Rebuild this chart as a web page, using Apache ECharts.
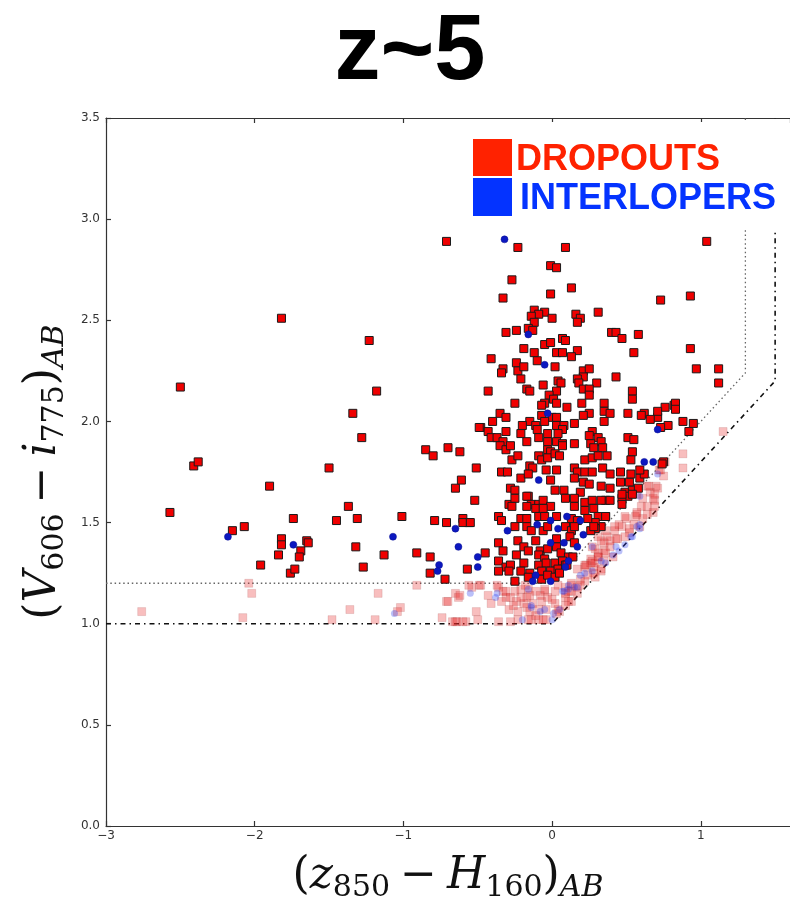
<!DOCTYPE html>
<html>
<head>
<meta charset="utf-8">
<script src="https://cdn.jsdelivr.net/npm/echarts@6/dist/echarts.min.js"></script>
<style>html,body{margin:0;padding:0;background:#fff}#c{width:790px;height:908px}</style>
</head>
<body>
<div id="c"></div>
<script>
// ---- data (colour-colour plane: x = z850 - H160, y = V606 - i775) ----
var titleText = 'z~5';
var xTicks = [-3, -2, -1, 0, 1];
var yTicks = [0.0, 0.5, 1.0, 1.5, 2.0, 2.5, 3.0, 3.5];
var legendNames = ['DROPOUTS', 'INTERLOPERS'];

var dropouts = [
[-2.50,2.17],[-2.41,1.78],[-2.38,1.80],[-2.57,1.55],[-2.15,1.46],[-2.07,1.48],[-1.90,1.68],[-1.96,1.29],[-1.84,1.34],[-1.82,1.42],[-1.82,1.39],[-1.74,1.52],[-1.76,1.25],[-1.73,1.27],[-1.69,1.36],[-1.70,1.33],[-1.65,1.41],[-1.64,1.40],[-1.50,1.77],[-1.45,1.51],[-1.37,1.58],[-1.31,1.52],[-1.32,1.38],[-1.27,1.28],[-1.34,2.04],[-1.28,1.92],[-1.23,2.40],[-1.18,2.15],[-1.13,1.34],[-1.01,1.53],[-0.91,1.35],[-1.82,2.51],
[-0.85,1.86],[-0.80,1.83],[-0.82,1.33],[-0.82,1.25],[-0.79,1.51],[-0.71,1.50],[-0.70,1.87],[-0.62,1.85],[-0.72,1.22],[-0.65,1.67],[-0.60,1.52],[-0.56,1.50],[-0.57,1.27],[-0.51,1.77],[-0.52,1.61],[-0.48,1.97],[-0.45,1.35],[-0.43,2.15],
[-0.71,2.89],[-0.23,2.86],[0.09,2.86],[-0.01,2.77],[0.03,2.76],[-0.27,2.70],[0.13,2.66],[-0.01,2.63],[-0.33,2.61],[0.73,2.60],[-0.12,2.55],[-0.05,2.54],[-0.09,2.53],[-0.14,2.52],[0.16,2.53],[0.19,2.51],[0.31,2.54],[0.00,2.51],[-0.12,2.49],[0.17,2.49],[-0.31,2.44],[-0.24,2.45],[-0.16,2.46],[-0.13,2.45],[0.40,2.44],[0.43,2.44],[0.58,2.43],[0.47,2.41],[0.07,2.41],[0.09,2.40],[-0.05,2.38],[-0.01,2.39],[-0.19,2.36],[-0.12,2.34],[0.03,2.34],[0.07,2.34],[0.17,2.35],[0.55,2.34],[-0.41,2.31],[0.13,2.32],[-0.24,2.29],[-0.10,2.30],
[1.04,2.89],[0.93,2.62],[0.93,2.36],[0.97,2.26],[1.12,2.26],[1.12,2.19],
[-0.33,2.26],[-0.34,2.24],[-0.23,2.25],[-0.19,2.27],[0.02,2.27],[0.21,2.25],[0.25,2.26],[0.21,2.22],[-0.21,2.21],[0.04,2.20],[0.06,2.19],[0.17,2.21],[0.18,2.19],[0.30,2.19],[0.43,2.22],[-0.06,2.18],[0.21,2.16],[0.25,2.16],[-0.17,2.16],[-0.15,2.15],[0.03,2.15],[0.54,2.15],[0.25,2.13],[-0.02,2.13],[0.01,2.11],[0.54,2.11],[-0.25,2.09],[0.03,2.09],[-0.05,2.09],[-0.07,2.08],[0.20,2.09],[0.35,2.09],[0.10,2.07],[0.76,2.07],[0.82,2.08],[0.83,2.09],[0.35,2.05],[0.39,2.04],[0.51,2.04],[0.62,2.04],[0.60,2.03],[-0.35,2.04],[0.25,2.04],[0.21,2.03],[-0.07,2.03],[0.00,2.02],[0.03,2.02],[-0.40,2.00],[-0.31,2.02],[-0.15,2.00],[-0.05,2.00],[0.15,1.99],[0.35,2.00],[0.71,2.02],[0.88,2.00],[0.78,1.98],[0.73,1.97],[-0.49,1.97],[-0.20,1.98],[-0.11,1.98],[0.03,1.98],[0.08,1.98],[-0.43,1.95],[-0.31,1.95],[-0.10,1.96],[0.07,1.96],[-0.21,1.94],[-0.03,1.94],[0.04,1.94],[0.27,1.95],[-0.41,1.92],[-0.37,1.92],[-0.09,1.92],[0.25,1.93],[0.31,1.92],[0.51,1.92],[0.55,1.91],[-0.03,1.90],[0.03,1.90],[-0.33,1.90],[-0.17,1.90],[0.07,1.89],[0.15,1.89],[0.26,1.89],[0.33,1.90],[-0.35,1.88],[-0.31,1.86],[-0.28,1.88],[-0.03,1.86],[-0.01,1.85],[0.07,1.88],[0.28,1.87],[0.34,1.87],[0.54,1.85],[-0.09,1.83],[-0.07,1.81],[-0.03,1.82],[0.02,1.84],[0.05,1.83],[0.22,1.81],[0.27,1.82],[0.31,1.83],[0.37,1.83],[0.53,1.81],[-0.27,1.81],[-0.23,1.83],[-0.15,1.78],[-0.13,1.77],[-0.34,1.75],[-0.30,1.75],[-0.21,1.72],[-0.16,1.74],[-0.04,1.76],[0.03,1.76],[0.15,1.77],[0.17,1.75],[0.22,1.75],[0.27,1.75],[0.34,1.77],[0.39,1.74],[0.46,1.75],[-0.01,1.71],[0.15,1.72],[0.21,1.70],[0.25,1.69],[0.33,1.68],[0.39,1.67],[0.46,1.70],[0.52,1.70],[0.59,1.72],[0.62,1.74],[0.75,1.80],[0.59,1.76],[0.53,1.74],[-0.61,1.71],[-0.28,1.67],[-0.25,1.66],[-0.16,1.63],[0.02,1.66],[0.08,1.66],[0.19,1.65],[0.49,1.65],[0.54,1.66],
[0.92,1.95],[0.95,1.99],[0.74,1.79],[0.58,1.67],[0.51,1.63],[0.47,1.62],[0.54,1.64],[0.47,1.59],[0.36,1.61],[0.36,1.53],[0.31,1.53],[0.33,1.48],[0.29,1.50],[0.83,2.06],[0.66,2.01],[0.71,2.05],
[-0.29,1.59],[-0.25,1.62],[-0.17,1.63],[-0.14,1.59],[-0.09,1.59],[-0.06,1.61],[-0.01,1.58],[0.09,1.62],[0.15,1.62],[0.22,1.60],[0.27,1.61],[0.33,1.61],[0.39,1.61],[0.47,1.64],[-0.27,1.58],[-0.17,1.58],[-0.11,1.57],[-0.06,1.57],[0.15,1.58],[0.22,1.56],[0.28,1.57],[-0.60,1.50],[-0.55,1.50],[-0.36,1.53],[-0.34,1.51],[-0.21,1.52],[-0.17,1.52],[-0.09,1.53],[-0.05,1.53],[0.03,1.53],[0.13,1.52],[0.17,1.51],[0.24,1.52],[0.29,1.47],[0.36,1.53],[-0.25,1.48],[-0.17,1.48],[-0.14,1.46],[-0.06,1.46],[-0.03,1.48],[0.09,1.48],[0.13,1.46],[0.15,1.48],[0.26,1.46],[0.28,1.48],[-0.36,1.40],[-0.23,1.41],[-0.19,1.38],[-0.11,1.41],[0.03,1.42],[0.12,1.43],[0.15,1.40],[-0.16,1.36],[-0.08,1.36],[-0.03,1.37],[0.03,1.38],[0.06,1.35],[0.11,1.33],[0.14,1.33],[-0.33,1.36],[-0.24,1.34],[-0.09,1.34],[-0.05,1.32],[-0.36,1.31],[-0.31,1.28],[-0.28,1.29],[-0.19,1.30],[-0.09,1.29],[-0.04,1.30],[0.02,1.30],[0.07,1.31],[-0.36,1.26],[-0.29,1.26],[-0.21,1.26],[-0.15,1.25],[-0.07,1.26],[-0.01,1.26],[0.04,1.27],[0.09,1.29],[-0.25,1.21],[-0.16,1.23],[-0.07,1.22],[-0.03,1.24],[0.02,1.23],[0.05,1.25],[0.10,1.29]
];

var interlopers = [
[-2.18,1.43],[-1.74,1.39],[-1.07,1.43],[-0.76,1.29],[-0.77,1.26],[-0.65,1.47],[-0.63,1.38],[-0.50,1.33],[-0.50,1.28],[-0.32,2.90],[-0.16,2.43],[-0.05,2.28],[-0.03,2.04],[-0.09,1.71],[0.62,1.80],[0.68,1.80],[0.71,1.96],[-0.30,1.46],[-0.10,1.49],[-0.01,1.51],[0.04,1.47],[0.10,1.53],[0.19,1.51],[0.21,1.44],[-0.01,1.40],[0.08,1.40],[0.17,1.38],[-0.11,1.24],[-0.13,1.21],[-0.01,1.21],[0.11,1.31],[0.09,1.28]
];

var dropoutsFaint = [
[-2.76,1.06],[-2.04,1.20],[-2.02,1.15],[-2.08,1.03],[-1.48,1.02],[-1.36,1.07],[-1.17,1.15],[-1.19,1.02],[-1.02,1.08],[-1.04,1.06],[-0.91,1.19],
[-0.54,1.18],[-0.48,1.19],[-0.36,1.18],[-0.33,1.16],[-0.25,1.16],[-0.31,1.13],[-0.21,1.17],[-0.16,1.17],[-0.11,1.16],[-0.05,1.16],[0.02,1.16],[0.04,1.19],[0.09,1.18],[0.13,1.20],[0.17,1.18],[0.22,1.21],[0.24,1.24],[0.28,1.25],[0.33,1.27],[0.28,1.28],[0.22,1.29],[0.26,1.32],[0.31,1.33],[0.35,1.31],[0.35,1.36],[0.39,1.38],[0.29,1.37],[0.33,1.41],[0.37,1.43],[0.31,1.43],[0.42,1.46],[0.47,1.48],[0.52,1.45],[0.55,1.49],[0.50,1.52],[0.57,1.54],[0.61,1.52],[0.64,1.58],[0.68,1.55],[0.69,1.61],
[-0.65,1.15],[-0.63,1.13],[-0.71,1.11],[-0.51,1.06],[-0.58,1.01],[-0.67,1.01],[-0.64,1.01],[-0.34,1.11],[-0.28,1.13],[-0.24,1.11],[-0.17,1.13],[-0.19,1.10],[-0.29,1.07],[-0.23,1.06],[-0.17,1.08],[-0.13,1.10],[-0.07,1.11],[-0.03,1.13],[-0.09,1.07],[-0.04,1.07],[0.02,1.10],[-0.15,1.06],[-0.23,1.02],[-0.16,1.02],[-0.09,1.02],[-0.04,1.02],[0.03,1.05],[0.09,1.13],[0.13,1.11],[0.17,1.15],[0.13,1.16],[-0.43,1.14],[-0.41,1.10],[-0.50,1.02],[-0.36,1.01],[-0.28,1.01],
[-0.62,1.14],[-0.70,1.11],[-0.56,1.19],[-0.49,1.19],[-0.74,1.03],[-0.65,1.01],[-0.60,1.01],[-0.37,1.19],[-0.31,1.16],[-0.26,1.09],[-0.21,1.13],[-0.18,1.19],[-0.15,1.14],[-0.14,1.02],[-0.11,1.04],[-0.06,1.02],[-0.08,1.14],[-0.05,1.17],[0.00,1.12],[0.04,1.07],[0.09,1.15],[0.11,1.11],[0.13,1.19],[0.17,1.27],[0.22,1.28],[0.19,1.22],[0.26,1.30],[0.29,1.30],[0.31,1.35],[0.39,1.41],[0.44,1.42],[0.49,1.43],[0.52,1.47],[0.56,1.53],[0.60,1.58],[0.66,1.65],[0.64,1.68],[0.70,1.68],[0.68,1.62],[0.75,1.73],[0.72,1.76],
[1.15,1.95],[0.88,1.84],[0.88,1.77],[0.76,1.80],[0.73,1.76],[0.71,1.67],[0.65,1.68],[0.69,1.64],[0.57,1.64],[0.61,1.62],[0.69,1.58],[0.64,1.54],[0.57,1.55],[0.49,1.53],[0.59,1.48],[0.45,1.49],[0.42,1.48],[0.36,1.46],[0.43,1.42],[0.35,1.40],[0.27,1.38],[0.36,1.35],[0.41,1.33],[0.31,1.33],[0.27,1.31],[0.23,1.29],[0.33,1.26],[0.29,1.23],[0.19,1.19],[0.11,1.16],[0.09,1.09],[0.05,1.06]
];

var interlopersFaint = [
[-1.06,1.05],[-0.55,1.15],[-0.37,1.15],[-0.16,1.17],[-0.14,1.08],[-0.08,1.06],[-0.05,1.07],[0.05,1.07],[0.07,1.16],[0.11,1.19],[0.15,1.18],[0.19,1.24],[0.22,1.25],[0.27,1.38],[0.33,1.31],[0.36,1.30],[0.43,1.38],[0.49,1.39],[0.53,1.43],[0.57,1.48],[0.59,1.49],[0.71,1.74],[0.59,1.63],[0.59,1.47],[0.54,1.43],[0.41,1.34],[0.27,1.26],[0.11,1.17],[0.08,1.16],[0.17,1.18],[-0.20,1.02],[0.00,1.02],[-0.38,1.13],[-0.14,1.09],[0.01,1.05],[0.45,1.36]
];

// selection boundaries
var selectionDotted = [[-3, 1.2], [0, 1.2], [1.3, 2.24], [1.3, 3.5]];
var selectionDashDot = [[-3, 1.0], [0, 1.0], [1.5, 2.2], [1.5, 3.5]];

// ---- chart ----
var chart = echarts.init(document.getElementById('c'), null, {renderer: 'canvas'});
var serifRich = {
  p:  {fontFamily: 'DejaVu Serif', fontSize: 44, lineHeight: 52, verticalAlign: 'middle', color: '#111'},
  i:  {fontFamily: 'DejaVu Serif', fontStyle: 'italic', fontSize: 44, lineHeight: 52, verticalAlign: 'middle', color: '#111'},
  m:  {fontFamily: 'DejaVu Serif', fontSize: 44, lineHeight: 52, verticalAlign: 'middle', color: '#111', padding: [0, 10, 0, 10]},
  s:  {fontFamily: 'DejaVu Serif', fontSize: 30, lineHeight: 18, verticalAlign: 'bottom', color: '#111'},
  si: {fontFamily: 'DejaVu Serif', fontStyle: 'italic', fontSize: 30, lineHeight: 18, verticalAlign: 'bottom', color: '#111'}
};
var axisLineStyle = {color: '#333', width: 1.2};
var tickLabel = {color: '#333', fontFamily: 'DejaVu Sans', fontSize: 12};

var option = {
  backgroundColor: '#fff',
  animation: false,
  grid: {left: 106, right: -5, top: 118, bottom: 80, containLabel: false},
  xAxis: [{
    type: 'value', min: -3, max: 1.6, interval: 1, position: 'bottom',
    axisLine: {show: true, onZero: false, lineStyle: axisLineStyle},
    axisTick: {show: true, inside: true, length: 5, lineStyle: axisLineStyle},
    splitLine: {show: false},
    axisLabel: Object.assign({margin: 4, showMaxLabel: false, formatter: function (v) {
      if (xTicks.indexOf(Math.round(v)) < 0 || Math.abs(v - Math.round(v)) > 1e-6) return '';
      return String(Math.round(v)).replace('-', '\u2212');
    }}, tickLabel),
    name: '{p|(}{i|z}{s|850}{m|\u2212}{i|H}{s|160}{p|)}{si|AB}',
    nameLocation: 'middle', nameGap: 25,
    nameTextStyle: {rich: serifRich}
  }, {
    type: 'value', min: -3, max: 1.6, interval: 1, position: 'top',
    axisLine: {show: true, onZero: false, lineStyle: axisLineStyle},
    axisTick: {show: true, inside: true, length: 5, lineStyle: axisLineStyle},
    splitLine: {show: false},
    axisLabel: {show: false}
  }],
  yAxis: [{
    type: 'value', min: 0, max: 3.5, interval: 0.5,
    axisLine: {show: true, onZero: false, lineStyle: axisLineStyle},
    axisTick: {show: true, inside: true, length: 5, lineStyle: axisLineStyle},
    splitLine: {show: false},
    axisLabel: Object.assign({margin: 6, formatter: function (v) { return v.toFixed(1); }}, tickLabel),
    name: '{p|(}{i|V}{s|606}{m|\u2212}{i|i}{s|775}{p|)}{si|AB}',
    nameLocation: 'middle', nameGap: 34,
    nameTextStyle: {rich: serifRich}
  }],
  series: [
    {type: 'line', data: selectionDotted, symbol: 'none', z: 1, silent: true,
     lineStyle: {color: '#666', width: 1.3, type: [1.5, 2.8]}},
    {type: 'line', data: selectionDashDot, symbol: 'none', z: 1, silent: true,
     lineStyle: {color: '#111', width: 1.6, type: [5, 4, 1.5, 4]}},
    {type: 'scatter', name: 'faint dropouts', data: dropoutsFaint, symbol: 'rect', symbolSize: 8, z: 2,
     itemStyle: {color: 'rgba(232,40,40,0.30)', borderColor: 'rgba(120,0,0,0.12)', borderWidth: 1, opacity: 1}},
    {type: 'scatter', name: 'faint interlopers', data: interlopersFaint, symbol: 'circle', symbolSize: 7, z: 3,
     itemStyle: {color: 'rgba(40,60,235,0.32)', opacity: 1}},
    {type: 'scatter', name: legendNames[0], data: dropouts, symbol: 'rect', symbolSize: 8, z: 4,
     itemStyle: {color: '#f00000', borderColor: '#1a1a1a', borderWidth: 1, opacity: 1}},
    {type: 'scatter', name: legendNames[1], data: interlopers, symbol: 'circle', symbolSize: 7, z: 5,
     itemStyle: {color: '#0c18c0', borderColor: '#0a1090', borderWidth: 0.5, opacity: 1}}
  ],
  graphic: [
    {type: 'text', x: 410, y: 54, z: 10,
     style: {text: titleText, font: 'bold 92px "Liberation Sans", Arial, sans-serif', fill: '#000', textAlign: 'center', textVerticalAlign: 'middle'}},
    {type: 'rect', x: 466, y: 122, z: 20, shape: {width: 321, height: 107}, style: {fill: '#fff'}},
    {type: 'rect', x: 473, y: 139, z: 21, shape: {width: 39, height: 37}, style: {fill: '#ff2200'}},
    {type: 'rect', x: 473, y: 178, z: 21, shape: {width: 39, height: 38}, style: {fill: '#0433ff'}},
    {type: 'text', x: 516, y: 160, z: 21,
     style: {text: legendNames[0], font: 'bold 36px "Liberation Sans", Arial, sans-serif', fill: '#ff2200', textAlign: 'left', textVerticalAlign: 'middle'}},
    {type: 'text', x: 520, y: 199, z: 21,
     style: {text: legendNames[1], font: 'bold 36px "Liberation Sans", Arial, sans-serif', fill: '#0433ff', textAlign: 'left', textVerticalAlign: 'middle'}}
  ]
};
chart.setOption(option);
</script>
</body>
</html>
